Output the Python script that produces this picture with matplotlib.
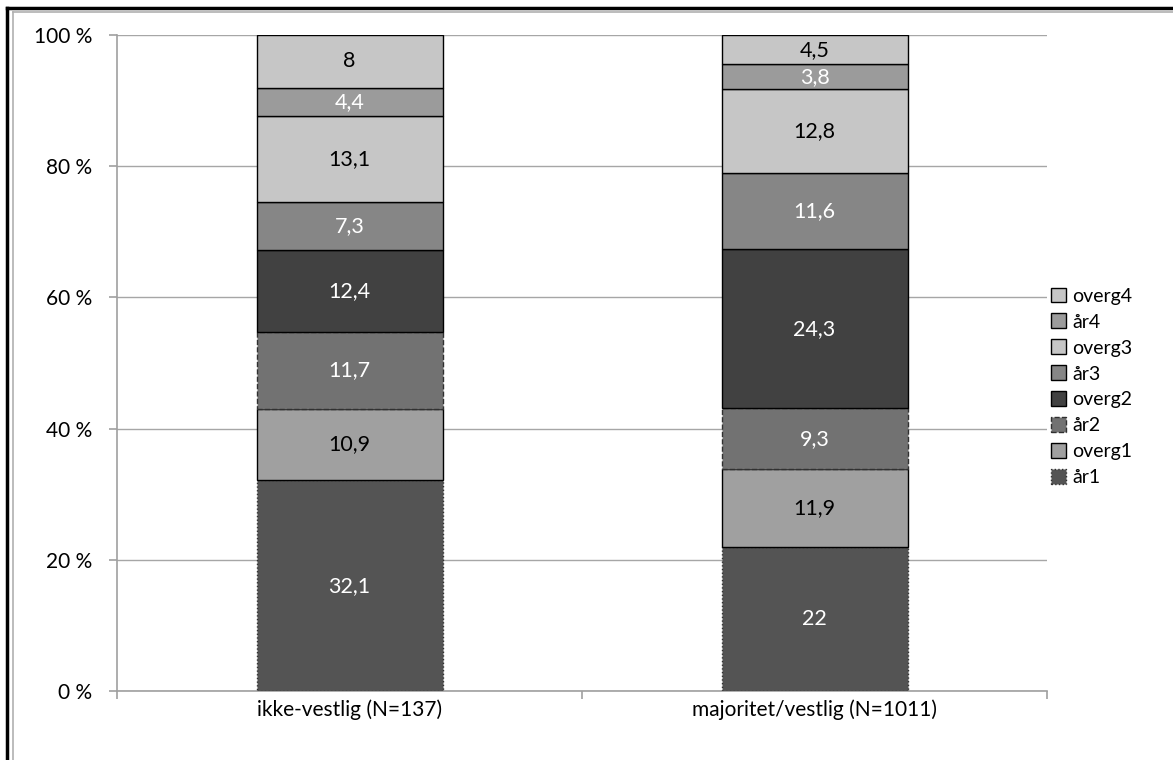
import numpy as np
import matplotlib.pyplot as plt
from matplotlib.patches import Patch
from matplotlib.ticker import FuncFormatter
from matplotlib.lines import Line2D

plt.rcParams['font.family'] = ['Lato', 'DejaVu Sans']

groups = ['ikke-vestlig (N=137)', 'majoritet/vestlig (N=1011)']
series = ['år1', 'overg1', 'år2', 'overg2', 'år3', 'overg3', 'år4', 'overg4']
ikke_vestlig = [32.1, 10.9, 11.7, 12.4, 7.3, 13.1, 4.4, 8]
majoritet = [22, 11.9, 9.3, 24.3, 11.6, 12.8, 3.8, 4.5]

colors = ['#545454', '#a0a0a0', '#727272', '#414141', '#868686', '#c6c6c6', '#9b9b9b', '#c6c6c6']
edges = ['#303030', 'black', '#303030', 'black', 'black', 'black', 'black', 'black']
styles = [':', '-', '--', '-', '-', '-', '-', '-']
text_colors = ['white', 'black', 'white', 'white', 'white', 'black', 'white', 'black']

data = np.array([ikke_vestlig, majoritet])
pct = data / data.sum(axis=1, keepdims=True) * 100

fig = plt.figure(figsize=(11.73, 7.6), dpi=100)
ax = fig.add_axes([117/1173, 69/760, 930/1173, 656/760])

x = np.arange(len(groups))
bottom = np.zeros(len(groups))
handles = []
for i, name in enumerate(series):
    ax.bar(x, pct[:, i], 0.4, bottom=bottom, color=colors[i], edgecolor=edges[i],
           linestyle=styles[i], linewidth=1.0, zorder=3)
    for j in range(len(groups)):
        lab = f"{data[j, i]:g}".replace('.', ',')
        ax.text(x[j], bottom[j] + pct[j, i] / 2, lab, ha='center', va='center',
                color=text_colors[i], fontsize=15.5, zorder=4)
    bottom += pct[:, i]
    handles.append(Patch(facecolor=colors[i], edgecolor=edges[i], linestyle=styles[i],
                         linewidth=1.0, label=name))

ax.set_xlim(-0.5, 1.5)
ax.set_ylim(0, 100)
ax.set_yticks(np.arange(0, 101, 20))
ax.yaxis.set_major_formatter(FuncFormatter(lambda v, p: f"{int(v)} %"))
ax.yaxis.grid(True, color='#a6a6a6', linewidth=1.0, zorder=0)
ax.set_xticks(x)
ax.set_xticklabels(groups)
ax.set_xticks([-0.5, 0.5, 1.5], minor=True)
ax.tick_params(axis='x', which='major', length=0, pad=6, labelsize=15)
ax.tick_params(axis='x', which='minor', length=6, color='#a0a0a0', width=1.2)
ax.tick_params(axis='y', length=6, color='#a0a0a0', width=1.2, labelsize=15, pad=12)
for s in ['top', 'right']:
    ax.spines[s].set_visible(False)
for s in ['left', 'bottom']:
    ax.spines[s].set_color('#a0a0a0')
    ax.spines[s].set_linewidth(1.2)

fig.legend(handles[::-1], series[::-1], loc='upper left', bbox_to_anchor=(1033/1173, 1 - 270/760),
           frameon=False, fontsize=14, handlelength=0.8, handleheight=0.8, handletextpad=0.3,
           labelspacing=0.45)

# outer border (top and left visible)
fig.add_artist(Line2D([7/1173, 7/1173], [0, 1 - 8/760], color='black', lw=2.5, transform=fig.transFigure))
fig.add_artist(Line2D([7/1173, 1], [1 - 8/760, 1 - 8/760], color='black', lw=2.5, transform=fig.transFigure))
fig.add_artist(Line2D([13/1173, 13/1173], [0, 1 - 12/760], color='#b0b0b0', lw=1.2, transform=fig.transFigure))
fig.add_artist(Line2D([13/1173, 1], [1 - 12/760, 1 - 12/760], color='#b0b0b0', lw=1.2, transform=fig.transFigure))

fig.savefig('out.png', dpi=100)
